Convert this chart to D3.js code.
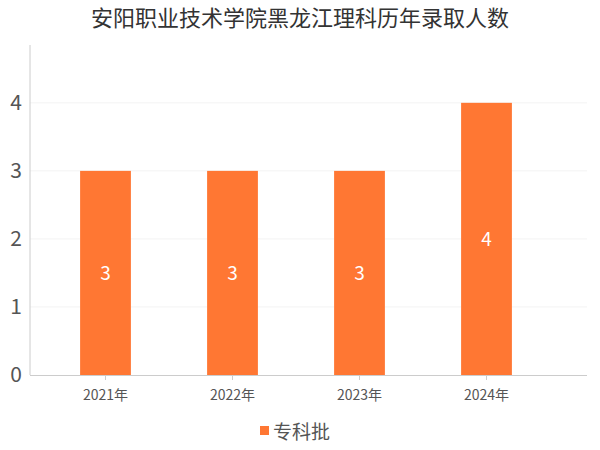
<!DOCTYPE html>
<html><head><meta charset="utf-8">
<script src="https://cdn.jsdelivr.net/npm/d3@7"></script>
<style>body{margin:0;background:#fff;font-family:"Noto Sans CJK SC","Noto Sans",sans-serif;}</style>
</head><body><svg width="600" height="450"></svg>
<script>
const categories = ["2021年","2022年","2023年","2024年"];
const values = [3,3,3,4];
const yTicks = [0,1,2,3,4];
const seriesName = "专科批";
const title = "安阳职业技术学院黑龙江理科历年录取人数";
const color = "#ff7733";

const svg = d3.select("svg");
const x = d3.scaleBand().domain(categories).range([42,550]).paddingInner(0.6).paddingOuter(0.3);
const y = d3.scaleLinear().domain([0,4.85]).range([375,45]);

svg.append("text").attr("x",300).attr("y",26).attr("text-anchor","middle")
  .attr("font-size",22).attr("fill","#333").text(title);

svg.selectAll(".grid").data(yTicks.slice(1)).join("line")
  .attr("x1",30).attr("x2",587).attr("y1",d=>y(d)).attr("y2",d=>y(d))
  .attr("stroke","#f3f3f3");

svg.append("line").attr("x1",30).attr("x2",30).attr("y1",45).attr("y2",375).attr("stroke","#ccc");
svg.append("line").attr("x1",30).attr("x2",587).attr("y1",375.5).attr("y2",375.5).attr("stroke","#ccc");

svg.selectAll(".yt").data(yTicks).join("text")
  .attr("x",22).attr("y",d=>y(d)+7).attr("text-anchor","end")
  .attr("font-size",21).attr("fill","#555").text(d=>d);

svg.selectAll(".bar").data(values).join("rect")
  .attr("x",(d,i)=>x(categories[i])).attr("width",x.bandwidth())
  .attr("y",d=>y(d)).attr("height",d=>y(0)-y(d)).attr("fill",color);

svg.selectAll(".lbl").data(values).join("text")
  .attr("x",(d,i)=>x(categories[i])+x.bandwidth()/2).attr("y",d=>(y(d)+y(0))/2+7)
  .attr("text-anchor","middle").attr("font-size",19).attr("fill","#fff").text(d=>d);

svg.selectAll(".xt").data(categories).join("text")
  .attr("x",d=>x(d)+x.bandwidth()/2).attr("y",400).attr("text-anchor","middle")
  .attr("font-size",14).attr("fill","#555").text(d=>d);

svg.selectAll(".xtick").data(categories).join("line")
  .attr("x1",d=>x(d)+x.bandwidth()/2).attr("x2",d=>x(d)+x.bandwidth()/2)
  .attr("y1",375).attr("y2",380).attr("stroke","#ccc");

svg.append("rect").attr("x",260).attr("y",426).attr("width",9).attr("height",9).attr("fill",color);
svg.append("text").attr("x",273).attr("y",439).attr("font-size",19).attr("fill","#555").text(seriesName);
</script></body></html>
